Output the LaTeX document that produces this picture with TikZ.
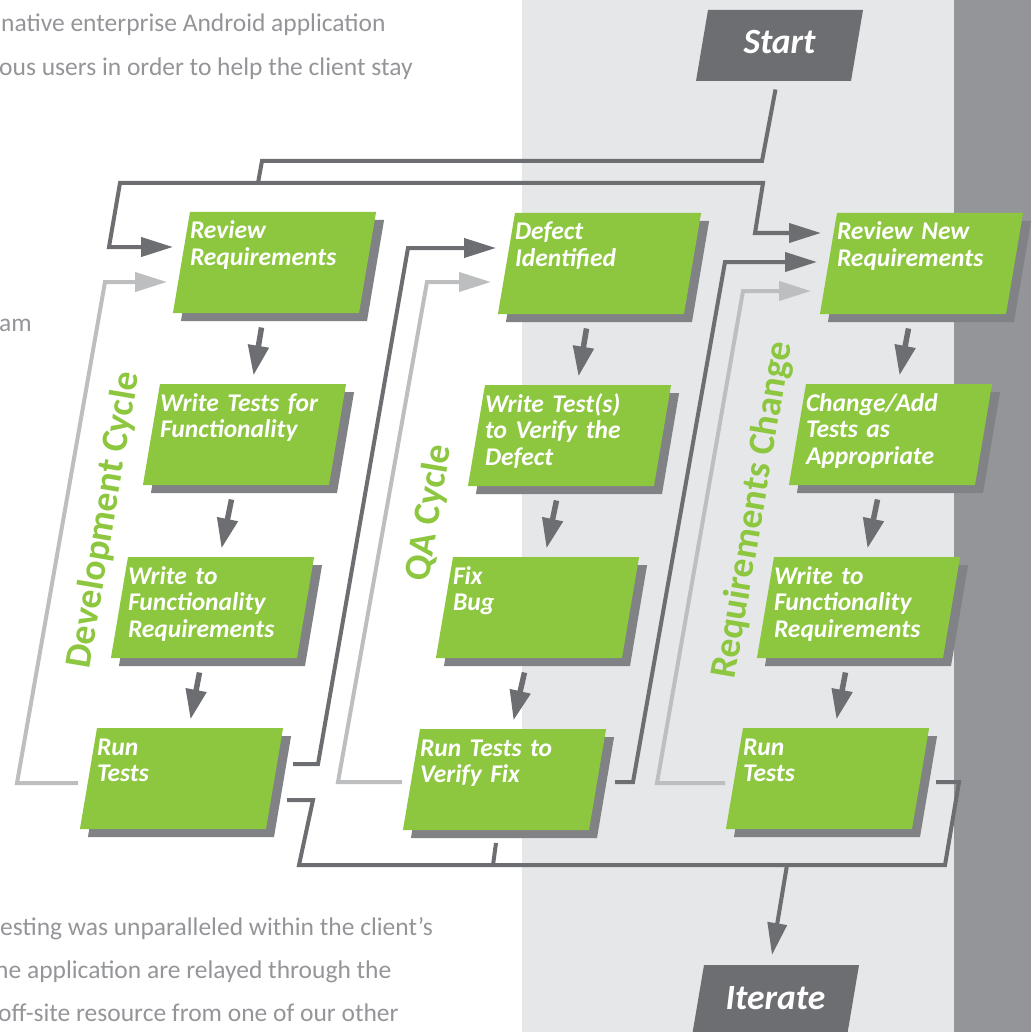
\documentclass[tikz,border=0pt]{standalone}
\usepackage{fontspec}
\setmainfont{Carlito}
\usepackage{xcolor}
\usetikzlibrary{shapes.geometric,arrows.meta,shadows}

\definecolor{boxgreen}{HTML}{8DC63F}
\definecolor{shadowgray}{HTML}{808285}
\definecolor{linedark}{HTML}{6D6E71}
\definecolor{linelight}{HTML}{BCBEC0}
\definecolor{bandlight}{HTML}{E6E7E8}
\definecolor{banddark}{HTML}{939598}
\definecolor{textgray}{HTML}{939598}

\begin{document}
\begin{tikzpicture}[x=1pt, y=-1pt,
    stepbox/.style={trapezium, trapezium left angle=80.4, trapezium right angle=99.6,
                    fill=boxgreen, text=white, inner sep=0pt, text width=169pt,
                    align=left, text height=27pt, text depth=74pt,
                    font=\bfseries\itshape\fontsize{25.5}{26.5}\selectfont,
                    drop shadow={shadow xshift=8pt, shadow yshift=-8pt,
                                 fill=shadowgray, opacity=1}},
    endbox/.style={trapezium, trapezium left angle=80.4, trapezium right angle=99.6,
                   fill=linedark, text=white, inner sep=0pt, text width=143pt,
                   align=center, text height=44pt, text depth=27pt,
                   font=\bfseries\itshape\fontsize{35.5}{38}\selectfont},
    cyclelabel/.style={rotate=80.4, inner sep=0pt, text=boxgreen,
                       font=\bfseries\fontsize{37.5}{40}\selectfont},
    bodytext/.style={anchor=base west, inner sep=0pt, text=textgray,
                     font=\fontsize{25.5}{30}\selectfont},
    flow/.style={draw=linedark, line width=5.5pt, -{Triangle[length=30pt, width=20pt]}},
    darkline/.style={draw=linedark, line width=4pt},
    lightline/.style={draw=linelight, line width=4pt},
    tip/.style={-{Triangle[length=32pt, width=19pt]}}
]
    \useasboundingbox (0,0) rectangle (1031,1032);
    \clip (0,0) rectangle (1031,1032);

    % Page background
    \fill[bandlight] (522,0) rectangle (954,1032);
    \fill[banddark] (954,0) rectangle (1031,1032);

    % Page text around the chart
    \node[bodytext] (para1) at (1,32) {native enterprise Android application};
    \node[bodytext] (para2) at (-1,76) {ous users in order to help the client stay};
    \node[bodytext] (para3) at (-1,331) {am};
    \node[bodytext] (para4) at (0,935) {esting was unparalleled within the client’s};
    \node[bodytext] (para5) at (-5,978) {he application are relayed through the};
    \node[bodytext] (para6) at (-2,1021) {off-site resource from one of our other};

    % Start / Iterate
    \node[endbox] (start) at (779.5,45.5) {Start};
    \node[endbox] (iter) at (775.5,1000.5) {Iterate};

    % Development Cycle
    \node[stepbox] (rr1) at (274.5,262.5) {Review\\Requirements};
    \node[stepbox] (wt1) at (244.5,434.5) {Write Tests for\\Functionality};
    \node[stepbox] (wf1) at (212.5,607.5) {Write to\\Functionality\\Requirements};
    \node[stepbox] (rt1) at (181.5,778.5) {Run\\Tests};
    \node[cyclelabel] (devlbl) at (104,520) {Development Cycle};

    % QA Cycle
    \node[stepbox] (di2) at (599.5,263.5) {Defect\\Identified};
    \node[stepbox] (wv2) at (569.5,435.5) {Write Test(s)\\to Verify the\\Defect};
    \node[stepbox] (fb2) at (537.5,607.5) {Fix\\Bug};
    \node[stepbox] (rt2) at (504.5,779.5) {Run Tests to\\Verify Fix};
    \node[cyclelabel] (qalbl) at (429.5,513) {QA Cycle};

    % Requirements Change
    \node[stepbox] (rn3) at (921.5,263.5) {Review New\\Requirements};
    \node[stepbox] (ca3) at (890.5,434.5) {Change/Add\\Tests as\\Appropriate};
    \node[stepbox] (wf3) at (858.5,607.5) {Write to\\Functionality\\Requirements};
    \node[stepbox] (rt3) at (827.5,778.5) {Run\\Tests};
    \node[cyclelabel] (reqlbl) at (753.5,510) {Requirements Change};

    % Steps inside each column
    \draw[flow] ([shift={(-13,65)}]rr1.center) -- ([shift={(9,-59)}]wt1.center);
    \draw[flow] ([shift={(-13,65)}]wt1.center) -- ([shift={(9,-59)}]wf1.center);
    \draw[flow] ([shift={(-13,65)}]wf1.center) -- ([shift={(9,-59)}]rt1.center);
    \draw[flow] ([shift={(-13,65)}]di2.center) -- ([shift={(9,-59)}]wv2.center);
    \draw[flow] ([shift={(-13,65)}]wv2.center) -- ([shift={(9,-59)}]fb2.center);
    \draw[flow] ([shift={(-13,65)}]fb2.center) -- ([shift={(9,-59)}]rt2.center);
    \draw[flow] ([shift={(-13,65)}]rn3.center) -- ([shift={(9,-59)}]ca3.center);
    \draw[flow] ([shift={(-13,65)}]ca3.center) -- ([shift={(9,-59)}]wf3.center);
    \draw[flow] ([shift={(-13,65)}]wf3.center) -- ([shift={(9,-59)}]rt3.center);

    % Start feeds both review boxes
    \coordinate (split) at (258,183);
    \draw[darkline] ([shift={(-4,44)}]start.center) -- (762,161) -- (262,161) -- (split);
    \draw[darkline, tip] (split) -- (120,183) -- (109,247) -- ([shift={(-101.5,-15.5)}]rr1.center);
    \draw[darkline, tip] (split) -- (763,183) -- (755,233) -- ([shift={(-100.5,-30.5)}]rn3.center);

    % Loops back
    \draw[lightline, tip] ([shift={(-103.5,4.5)}]rt1.center) -- (17,783) -- (105,282) -- ([shift={(-107.5,19.5)}]rr1.center);
    \draw[darkline, tip] ([shift={(111.5,-14.5)}]rt1.center) -- (318,764) -- (408,248) -- ([shift={(-103.5,-15.5)}]di2.center);
    \draw[lightline, tip] ([shift={(-102.5,2.5)}]rt2.center) -- (338,782) -- (427,282) -- ([shift={(-108.5,18.5)}]di2.center);
    \draw[darkline, tip] ([shift={(110.5,2.5)}]rt2.center) -- (633,782) -- (725,262) -- ([shift={(-104.5,-1.5)}]rn3.center);
    \draw[lightline, tip] ([shift={(-102.5,4.5)}]rt3.center) -- (657,783) -- (743,291) -- ([shift={(-110.5,27.5)}]rn3.center);

    % All runs lead to Iterate
    \coordinate (merge) at (787,865);
    \draw[darkline] ([shift={(105.5,21.5)}]rt1.center) -- (313,800) -- (299,865) -- (945,865) -- (959,782) -- ([shift={(108.5,3.5)}]rt3.center);
    \draw[darkline] ([shift={(-8.5,63.5)}]rt2.center) -- (493,865);
    \draw[darkline, tip] (merge) -- ([shift={(-3.5,-45.5)}]iter.center);

\end{tikzpicture}
\end{document}
